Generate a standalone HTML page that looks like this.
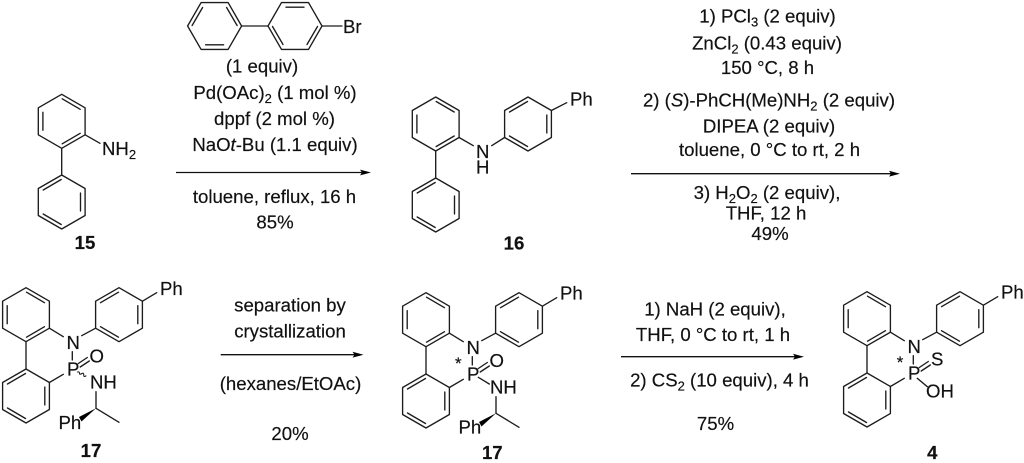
<!DOCTYPE html>
<html>
<head>
<meta charset="utf-8">
<style>
html,body{margin:0;padding:0;background:#fff;width:1024px;height:463px;overflow:hidden}
svg{display:block}
text{font-family:"Liberation Sans",sans-serif;font-size:18.6px;fill:#111;stroke:#111;stroke-width:.18}
.c{text-anchor:middle}
.b{font-weight:bold}
.l{stroke:#1c1c1c;stroke-width:1.35;fill:none;stroke-linecap:round;stroke-linejoin:round}
.a{stroke:#111;stroke-width:1.35;fill:none}
.h{fill:#000;stroke:none}
</style>
</head>
<body>
<svg width="1024" height="463" viewBox="0 0 1024 463" xmlns="http://www.w3.org/2000/svg">
<defs>
<g id="ra" class="l"><polygon points="0,-27 23.4,-13.5 23.4,13.5 0,27 -23.4,13.5 -23.4,-13.5"/><path d="M0.5,-22.5L18.5,-12M-18.8,-9V9M0.5,22.5L18.5,12"/></g>
<g id="rb" class="l"><polygon points="0,-27 23.4,-13.5 23.4,13.5 0,27 -23.4,13.5 -23.4,-13.5"/><path d="M-0.5,-22.5L-18.5,-12M18.8,-9V9M-0.5,22.5L-18.5,12"/></g>
<g id="core">
<use href="#ra" x="26" y="314.7"/>
<use href="#rb" x="26" y="396"/>
<use href="#rb" x="119" y="314.7"/>
<path class="l" d="M26,341.7V369M49.4,328.2L63.3,336.7M72.3,351.7V360M49.4,382.5L63.3,374.3M81.7,335.7L95.6,328.2M142.4,301.2L156.7,292.7"/>
</g>
<g id="side">
<path class="l" d="M96,391.7V408.3L119,422.3"/>
<polygon class="h" points="96,408.3 79,417 81.5,421.5"/>
<path class="l" d="M78.3,363.5L87.3,357.5M80.2,367L89.3,361"/>
</g>
</defs>

<!-- 15 -->
<use href="#ra" x="61.7" y="121.3"/>
<use href="#rb" x="61.7" y="202"/>
<path class="l" d="M61.7,148.3V175M85.1,134.8L100,143.3"/>
<text x="102" y="155">NH<tspan font-size="13" dy="4">2</tspan></text>
<text class="c b" x="85" y="249">15</text>

<!-- bromobiphenyl -->
<use href="#rb" transform="translate(214.6,26) rotate(90)"/>
<use href="#ra" transform="translate(295,26) rotate(90)"/>
<path class="l" d="M241.6,26H268M322,26H342"/>
<text x="343" y="33">Br</text>

<!-- reagents 1 -->
<text class="c" x="262" y="72.5">(1 equiv)</text>
<text class="c" x="275" y="99">Pd(OAc)<tspan font-size="13" dy="4">2</tspan><tspan dy="-4"> (1 mol %)</tspan></text>
<text class="c" x="274.5" y="125">dppf (2 mol %)</text>
<text class="c" x="275" y="151">NaO<tspan font-style="italic">t</tspan>-Bu (1.1 equiv)</text>
<path class="a" d="M176,172.5H364"/><polygon class="h" points="371,172.5 360,169.6 362,172.5 360,175.4"/>
<text class="c" x="274.5" y="203">toluene, reflux, 16 h</text>
<text class="c" x="275" y="228.5">85%</text>

<!-- 16 -->
<use href="#ra" x="435.7" y="124"/>
<use href="#rb" x="435.7" y="205"/>
<use href="#rb" x="528" y="124"/>
<path class="l" d="M435.7,151V178M459.1,137.5L473.3,145.7M491.7,145.7L504.6,137.5M551.4,110.5L566.7,102.7"/>
<text x="476" y="158">N</text>
<text x="476" y="173.7">H</text>
<text x="570" y="105.3">Ph</text>
<text class="c b" x="514" y="249.3">16</text>

<!-- reagents 2 -->
<text class="c" x="767.5" y="22.7">1) PCl<tspan font-size="13" dy="4">3</tspan><tspan dy="-4"> (2 equiv)</tspan></text>
<text class="c" x="767" y="49.3">ZnCl<tspan font-size="13" dy="4">2</tspan><tspan dy="-4"> (0.43 equiv)</tspan></text>
<text class="c" x="767.5" y="74">150 °C, 8 h</text>
<text class="c" x="769" y="106.7">2) (<tspan font-style="italic">S</tspan>)-PhCH(Me)NH<tspan font-size="13" dy="4">2</tspan><tspan dy="-4"> (2 equiv)</tspan></text>
<text class="c" x="769" y="132.3">DIPEA (2 equiv)</text>
<text class="c" x="769.5" y="156">toluene, 0 °C to rt, 2 h</text>
<path class="a" d="M631,173.7H892"/><polygon class="h" points="900,173.7 889,170.8 891,173.7 889,176.6"/>
<text class="c" x="767" y="199">3) H<tspan font-size="13" dy="4">2</tspan><tspan dy="-4">O</tspan><tspan font-size="13" dy="4">2</tspan><tspan dy="-4"> (2 equiv),</tspan></text>
<text class="c" x="766" y="219.3">THF, 12 h</text>
<text class="c" x="770" y="240">49%</text>

<!-- 17 left -->
<use href="#core"/>
<use href="#side"/>
<path class="l" style="stroke-width:1.1" d="M77.5,372q2,-.5 2,1.2t2.2,.4t2,1.3t2.3,1"/>
<text x="66.5" y="349">N</text>
<text x="67" y="375.3">P</text>
<text x="89.5" y="362.3">O</text>
<text x="90" y="388.3">NH</text>
<text x="160" y="295">Ph</text>
<text x="58.5" y="429">Ph</text>
<text class="c b" x="91" y="457">17</text>

<!-- separation -->
<text class="c" x="290" y="311.7">separation by</text>
<text class="c" x="290" y="337.3">crystallization</text>
<path class="a" d="M220.7,354.7H356"/><polygon class="h" points="363.5,354.7 352.5,351.8 354.5,354.7 352.5,357.6"/>
<text class="c" x="290.5" y="390">(hexanes/EtOAc)</text>
<text class="c" x="290" y="440">20%</text>

<!-- 17 middle -->
<use href="#core" transform="translate(400,5)"/>
<use href="#side" transform="translate(400,5)"/>
<path class="l" d="M478.3,377.3L489.3,384"/>
<text x="466.5" y="354">N</text>
<text x="467" y="380.3">P</text>
<text x="489.5" y="367">O</text>
<text x="490" y="393.3">NH</text>
<text x="560" y="299.5">Ph</text>
<text x="458.5" y="433.5">Ph</text>
<text class="c" x="458.3" y="369" style="font-size:17px">*</text>
<text class="c b" x="492.3" y="459">17</text>

<!-- reagents 3 -->
<text class="c" x="715" y="315.7">1) NaH (2 equiv),</text>
<text class="c" x="713" y="341">THF, 0 °C to rt, 1 h</text>
<path class="a" d="M621,356.7H797"/><polygon class="h" points="804,356.7 793,353.8 795,356.7 793,359.6"/>
<text class="c" x="719.5" y="386.7">2) CS<tspan font-size="13" dy="4">2</tspan><tspan dy="-4"> (10 equiv), 4 h</tspan></text>
<text class="c" x="715.5" y="430">75%</text>

<!-- 4 -->
<use href="#core" transform="translate(841,4)"/>
<path class="l" d="M919.3,367.5L928.3,361.5M921.2,371L930.3,365M917.3,378.3L927.3,386.7"/>
<text x="907.5" y="353">N</text>
<text x="908" y="379.3">P</text>
<text x="931" y="365.7">S</text>
<text x="926" y="397.3">OH</text>
<text x="1001" y="298.3">Ph</text>
<text class="c" x="900" y="368" style="font-size:17px">*</text>
<text class="c b" x="932.3" y="459">4</text>
</svg>
</body>
</html>
